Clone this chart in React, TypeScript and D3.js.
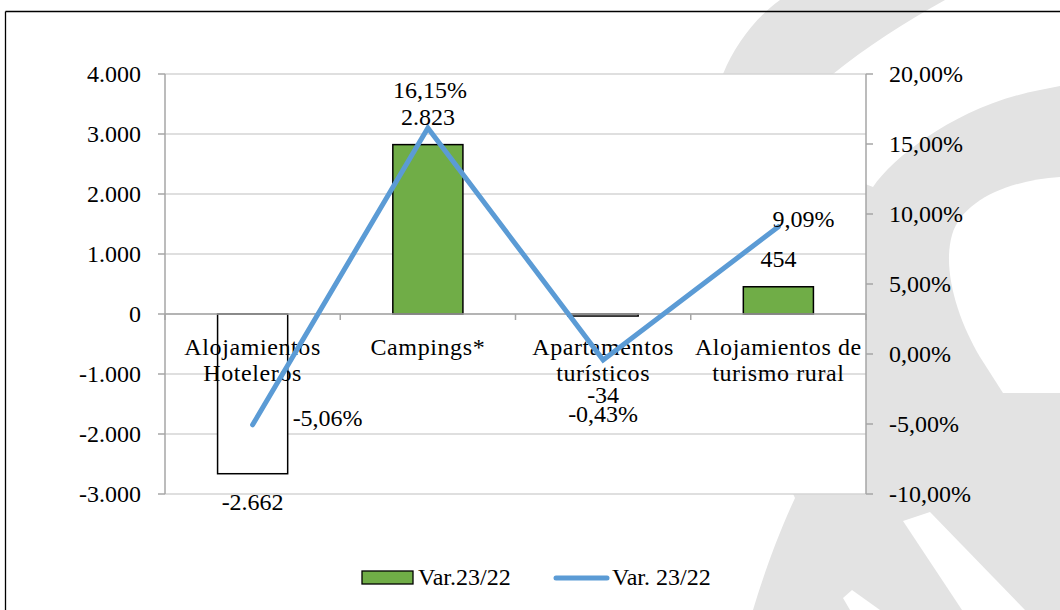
import React from "react";
import * as d3 from "d3";

const categories: string[] = [
  "Alojamientos\nHoteleros",
  "Campings*",
  "Apartamentos\nturísticos",
  "Alojamientos de\nturismo rural",
];
const barValues: number[] = [-2662, 2823, -34, 454];
const pctValues: number[] = [-5.06, 16.15, -0.43, 9.09];
const leftTicks: number[] = [-3000, -2000, -1000, 0, 1000, 2000, 3000, 4000];
const rightTicks: number[] = [-10, -5, 0, 5, 10, 15, 20];
const barSeriesName = "Var.23/22";
const lineSeriesName = "Var. 23/22";

const W = 1060;
const H = 610;
const FONT = "Liberation Serif";
const GREEN = "#70ad47";
const BLUE = "#5b9bd5";
const WM = "#e3e3e3";

const locale = d3.formatLocale({
  decimal: ",",
  thousands: ".",
  grouping: [3],
  currency: ["", "€"],
  minus: "-",
});
const fmtInt = locale.format(",d");
const fmtPct = (v: number) => locale.format(",.2f")(v) + "%";

function T(props: any) {
  const { children, ...rest } = props;
  return (
    <text fontFamily={FONT} fontSize={24} fill="#000" {...rest}>
      {children}
    </text>
  );
}

export default function App() {
  const left = 165;
  const right = 866;
  const top = 74;
  const bottom = 494;

  const x = d3.scaleBand<number>().domain(d3.range(categories.length)).range([left, right]).padding(0);
  const yL = d3.scaleLinear().domain([-3000, 4000]).range([bottom, top]);
  const yR = d3.scaleLinear().domain([-10, 20]).range([bottom, top]);
  const bw = x.bandwidth() * 0.4;
  const cx = (i: number) => (x(i) as number) + x.bandwidth() / 2;

  const line = d3
    .line<number>()
    .x((_, i) => cx(i))
    .y((d) => yR(d));

  const barLabelDy = [36, -20, 87, -20];
  const pctLabel = (i: number, v: number) => {
    const px = cx(i);
    const py = yR(v);
    if (i === 0) return { x: px + 40, y: py + 1, anchor: "start" };
    if (i === 1) return { x: px + 2, y: py - 30, anchor: "middle" };
    if (i === 2) return { x: px, y: py + 62, anchor: "middle" };
    return { x: px - 6, y: py, anchor: "start" };
  };

  const wmMain =
    "M780,0 L945,0 C905,22 865,48 833,74 L855,180 L873,187 C895,155 960,105 1040,90 L1060,86 L1060,610 L753,610 C765,570 780,530 795,498 L700,300 L723,74 C735,45 755,18 780,0 Z";
  const wmHole =
    "M1060,177 C1010,180 962,200 952,235 C942,270 958,320 980,357 L1003,393 L1060,393 Z";
  const wmStripe1 = "M903,521 L930,512 L1025,610 L962,610 Z";
  const wmStripe2 = "M843,598 L852,590 L880,610 L850,610 Z";

  const gridColor = "#d4d4d4";
  const axisColor = "#a6a6a6";

  return (
    <div style={{ position: "absolute", left: 0, top: 0 }}>
      <svg width={W} height={H} style={{ display: "block" }}>
        <rect x={0} y={0} width={W} height={H} fill="#fff" />
        {/* watermark */}
        <path d={wmMain} fill={WM} />
        <path d={wmHole} fill="#fff" />
        <path d={wmStripe1} fill="#fff" />
        <path d={wmStripe2} fill="#fff" />
        {/* frame */}
        <line x1={5.5} y1={11.5} x2={W} y2={11.5} stroke="#000" strokeWidth={1.3} />
        <line x1={5.5} y1={11.5} x2={5.5} y2={H} stroke="#000" strokeWidth={1.3} />

        {/* plot area */}
        <rect x={left} y={top} width={right - left} height={bottom - top} fill="#fff" />
        {leftTicks.map((t) => (
          <line key={"g" + t} x1={left} x2={right} y1={yL(t)} y2={yL(t)} stroke={gridColor} strokeWidth={1.5} />
        ))}

        {/* left axis */}
        <line x1={left} x2={left} y1={top} y2={bottom} stroke={axisColor} strokeWidth={1.5} />
        {leftTicks.map((t) => (
          <g key={"lt" + t}>
            <line x1={left - 7} x2={left} y1={yL(t)} y2={yL(t)} stroke={axisColor} strokeWidth={1.5} />
            <T x={141} y={yL(t) + 8} textAnchor="end">
              {fmtInt(t)}
            </T>
          </g>
        ))}

        {/* right axis */}
        <line x1={right} x2={right} y1={top} y2={bottom} stroke={axisColor} strokeWidth={1.5} />
        {rightTicks.map((t) => (
          <g key={"rt" + t}>
            <line x1={right} x2={right + 7} y1={yR(t)} y2={yR(t)} stroke={axisColor} strokeWidth={1.5} />
            <T x={889} y={yR(t) + 8} textAnchor="start">
              {fmtPct(t)}
            </T>
          </g>
        ))}

        {/* bars */}
        {barValues.map((v, i) => {
          const y0 = yL(0);
          const y1 = yL(v);
          const neg = v < 0;
          return (
            <rect
              key={"b" + i}
              x={cx(i) - bw / 2}
              y={Math.min(y0, y1)}
              width={bw}
              height={Math.max(1, Math.abs(y1 - y0))}
              fill={neg ? "#fff" : GREEN}
              stroke="#000"
              strokeWidth={1.5}
            />
          );
        })}

        {/* x axis (zero line) */}
        <line x1={left} x2={right} y1={yL(0)} y2={yL(0)} stroke={axisColor} strokeWidth={1.5} />
        {d3.range(categories.length + 1).map((i) => {
          const xx = left + i * x.bandwidth();
          return <line key={"xt" + i} x1={xx} x2={xx} y1={yL(0)} y2={yL(0) + 6} stroke={axisColor} strokeWidth={1.5} />;
        })}

        {/* category labels */}
        {categories.map((c, i) => (
          <T key={"c" + i} textAnchor="middle" letterSpacing={0.6}>
            {c.split("\n").map((ln, k) => (
              <tspan key={k} x={cx(i)} y={355 + k * 26}>
                {ln}
              </tspan>
            ))}
          </T>
        ))}

        {/* line series */}
        <path d={line(pctValues) || ""} fill="none" stroke={BLUE} strokeWidth={5} strokeLinecap="round" strokeLinejoin="miter" />

        {/* bar labels */}
        {barValues.map((v, i) => (
          <T key={"bl" + i} x={cx(i)} y={yL(v) + barLabelDy[i]} textAnchor="middle">
            {fmtInt(v)}
          </T>
        ))}

        {/* pct labels */}
        {pctValues.map((v, i) => {
          const p = pctLabel(i, v);
          return (
            <T key={"pl" + i} x={p.x} y={p.y} textAnchor={p.anchor}>
              {fmtPct(v)}
            </T>
          );
        })}

        {/* legend */}
        <rect x={362} y={571} width={51} height={13} fill={GREEN} stroke="#000" strokeWidth={1.3} />
        <T x={418} y={585}>
          {barSeriesName}
        </T>
        <line x1={556} x2={607} y1={578} y2={578} stroke={BLUE} strokeWidth={5} strokeLinecap="round" />
        <T x={612} y={585}>
          {lineSeriesName}
        </T>
      </svg>
    </div>
  );
}
